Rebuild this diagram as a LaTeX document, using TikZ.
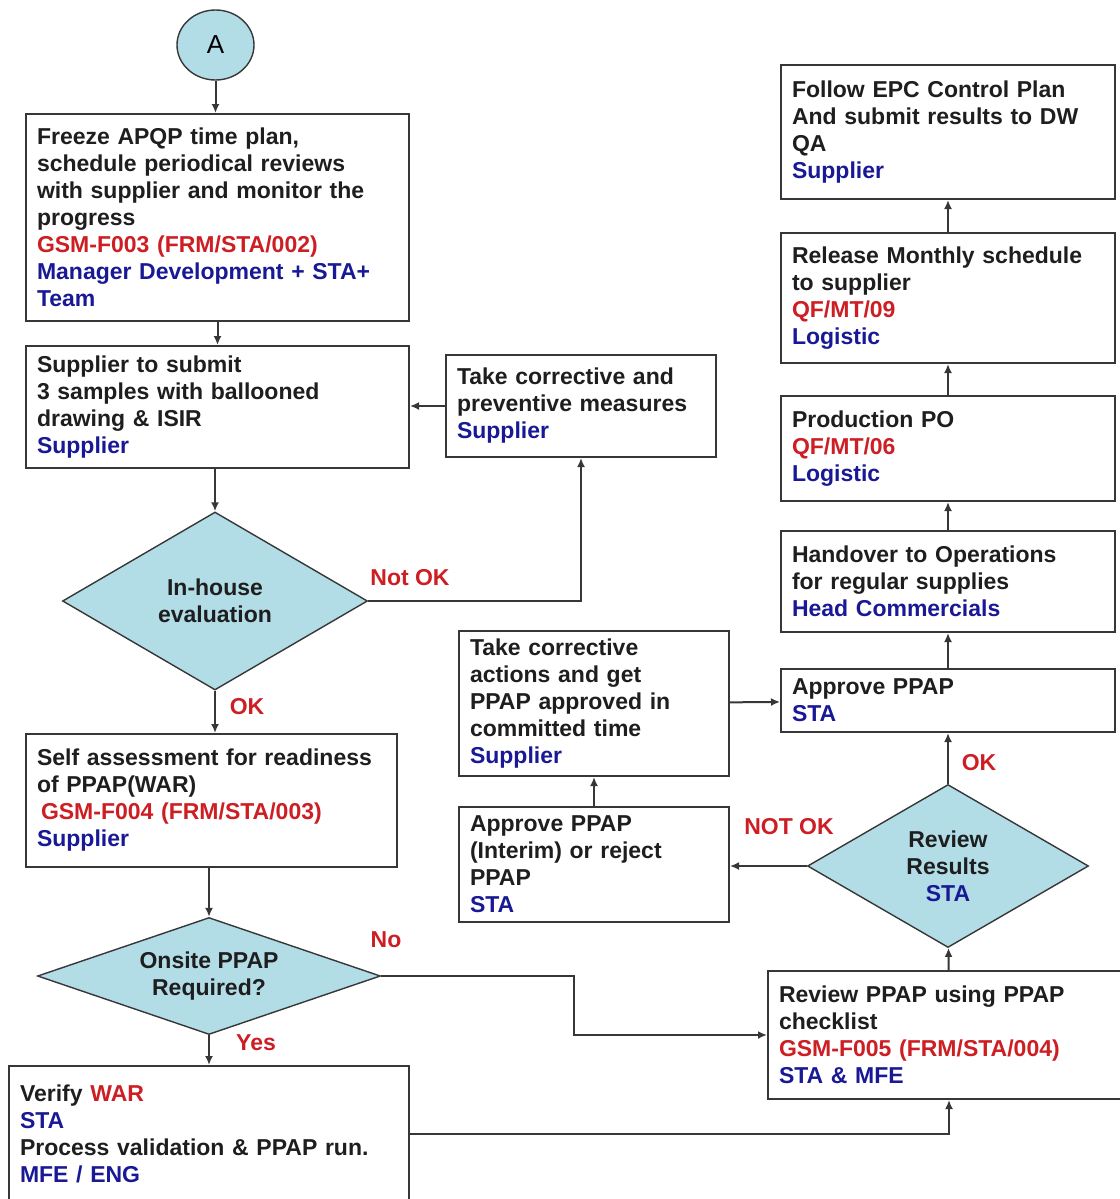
\documentclass[tikz,border=0pt]{standalone}
\usepackage{fontspec}
\setmainfont{Liberation Sans}
\usetikzlibrary{arrows.meta,shapes.geometric}
\definecolor{lc}{RGB}{55,55,55}
\definecolor{tblack}{RGB}{30,30,30}
\definecolor{tred}{RGB}{205,30,35}
\definecolor{tblue}{RGB}{25,25,150}
\definecolor{dfill}{RGB}{178,220,230}
\begin{document}
\begin{tikzpicture}[x=1pt,y=-1pt,
    font=\fontsize{23}{27}\selectfont\bfseries,
    box/.style 2 args={draw=lc,line width=2pt,fill=white,text=tblack,anchor=north west,align=left,
      inner xsep=11pt,inner ysep=3pt,text width=#1,minimum height=#2},
    dec/.style 2 args={diamond,draw=lc,line width=1.4pt,fill=dfill,text=tblack,inner sep=0pt,
      align=center,minimum width=#1,minimum height=#2},
    lbl/.style={text=tred}]
  \useasboundingbox (0,0) rectangle (1119,1199);
  \draw
    (215.5,45) node[ellipse,draw=lc,line width=1.4pt,fill=dfill,inner sep=0pt,
      minimum width=77pt,minimum height=70pt] (a){\mdseries\fontsize{26}{30}\selectfont A}
    (25,113) node[box={361pt}{207pt}] (freeze){Freeze APQP time plan,\\ schedule periodical reviews\\
      with supplier and monitor the\\ progress\\ \textcolor{tred}{GSM-F003 (FRM/STA/002)}\\
      \textcolor{tblue}{Manager Development + STA+}\\ \textcolor{tblue}{Team}}
    (25,345) node[box={361pt}{122pt}] (submit){Supplier to submit\\ 3 samples with ballooned\\
      drawing \& ISIR\\ \textcolor{tblue}{Supplier}}
    (445,354) node[box={248pt}{102pt}] (cp){Take corrective and\\ preventive measures\\
      \textcolor{tblue}{Supplier}}
    (215,601) node[dec={305pt}{178pt},aspect=1.71] (d1){In-house\\ evaluation}
    (25,733) node[box={349pt}{133pt}] (self){Self assessment for readiness\\ of PPAP(WAR)\\
      \hspace{4pt}\textcolor{tred}{GSM-F004 (FRM/STA/003)}\\ \textcolor{tblue}{Supplier}}
    (209,976) node[dec={343pt}{117pt},aspect=2.93] (d2){Onsite PPAP\\ Required?}
    (8,1065) node[box={378pt}{135pt}] (verify){Verify \textcolor{tred}{WAR}\\ \textcolor{tblue}{STA}\\
      Process validation \& PPAP run.\\ \textcolor{tblue}{MFE / ENG}}
    (767,970) node[box={340pt}{128pt}] (review){Review PPAP using PPAP\\ checklist\\
      \textcolor{tred}{GSM-F005 (FRM/STA/004)}\\ \textcolor{tblue}{STA \& MFE}}
    (948,866) node[dec={281pt}{163pt},aspect=1.72] (d3){Review\\ Results\\ \textcolor{tblue}{STA}}
    (458,806) node[box={248pt}{115pt}] (interim){Approve PPAP\\ (Interim) or reject\\ PPAP\\
      \textcolor{tblue}{STA}}
    (458,630) node[box={248pt}{145pt}] (ca){Take corrective\\ actions and get\\ PPAP approved in\\
      committed time\\ \textcolor{tblue}{Supplier}}
    (780,668) node[box={312pt}{63pt}] (approve){Approve PPAP\\ \textcolor{tblue}{STA}}
    (780,530) node[box={312pt}{101pt}] (handover){Handover to Operations\\ for regular supplies\\
      \textcolor{tblue}{Head Commercials}}
    (780,395) node[box={312pt}{105pt}] (po){Production PO\\ \textcolor{tred}{QF/MT/06}\\
      \textcolor{tblue}{Logistic}}
    (780,232) node[box={312pt}{130pt}] (release){Release Monthly schedule\\ to supplier\\
      \textcolor{tred}{QF/MT/09}\\ \textcolor{tblue}{Logistic}}
    (780,64) node[box={312pt}{134pt}] (follow){Follow EPC Control Plan\\ And submit results to DW\\
      QA\\ \textcolor{tblue}{Supplier}}
    (410,578) node[lbl] (nok1){Not OK}
    (247,707) node[lbl] (ok1){OK}
    (386,940) node[lbl] (no){No}
    (256,1043) node[lbl] (yes){Yes}
    (789,827) node[lbl] (nok2){NOT OK}
    (979,763) node[lbl] (ok2){OK};
  \begin{scope}[-{Latex[length=9pt,width=8pt]},draw=lc,line width=2pt]
    \draw (a) to (a |- freeze.north);
    \draw (freeze) to (freeze |- submit.north);
    \draw (cp) to (cp -| submit.east);
    \draw (submit.south -| d1) to (d1.north);
    \draw (d1.east) -| (cp.south);
    \draw (d1.south) to (d1.south |- self.north);
    \draw (self.south -| d2) to (d2.north);
    \draw (d2.south) to (d2.south |- verify.north);
    \draw (d2.east) -- ++(193,0) |- (review.west);
    \draw (verify.east) -| (review.south);
    \draw (review) to (d3);
    \draw (d3.north) to (d3.north |- approve.south);
    \draw (d3.west) to (d3.west -| interim.east);
    \draw (interim) to (interim |- ca.south);
    \draw (ca) to (approve);
    \draw (approve) to (handover);
    \draw (handover) to (po);
    \draw (po) to (release);
    \draw (release) to (follow);
  \end{scope}
\end{tikzpicture}
\end{document}
